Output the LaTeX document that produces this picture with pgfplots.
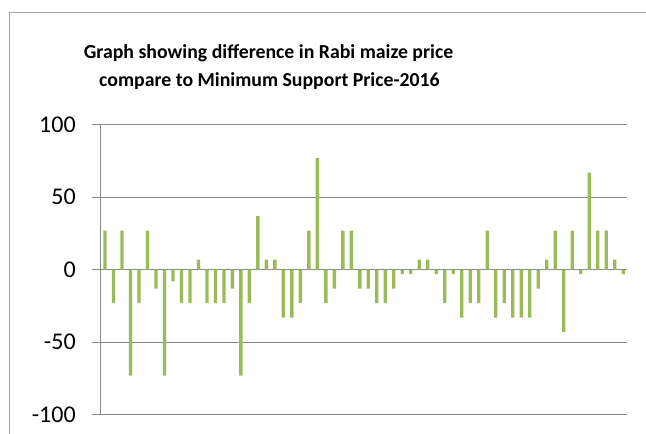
\documentclass[border=0pt]{standalone}
\usepackage{pgfplots}
\pgfplotsset{compat=1.18}
\usepackage{fontspec}
\setmainfont{Carlito}
\definecolor{bargreen}{HTML}{9BBB59}
\definecolor{gridgray}{HTML}{888888}
\definecolor{framegray}{HTML}{A0A0A0}
\begin{document}
\begin{tikzpicture}[x=1pt,y=1pt]
\path[use as bounding box] (0,0) rectangle (646,434);
\fill[framegray] (9,421) rectangle (646,422.3);
\fill[framegray] (9,0) rectangle (10.3,422.3);
\node[font=\bfseries\fontsize{19.8}{23}\selectfont, anchor=base] at (268.5,375) {Graph showing difference in Rabi maize price};
\node[font=\bfseries\fontsize{19.8}{23}\selectfont, anchor=base] at (269.5,347) {compare to Minimum Support Price-2016};
\begin{axis}[
  at={(100.7pt,19.3pt)}, anchor=south west,
  scale only axis, width=526.8pt, height=290pt,
  xmin=-0.5, xmax=61.5, ymin=-100, ymax=100,
  axis x line*=bottom,
  axis y line*=left,
  x axis line style={draw=none},
  y axis line style={-, gridgray, line width=1.3pt},
  ytick={-100,-50,0,50,100},
  xtick=\empty,
  ymajorgrids,
  grid style={gridgray, line width=1.3pt},
  tick align=outside,
  major tick length=8.5pt,
  tick style={gridgray, line width=1.3pt},
  /pgf/number format/assume math mode=true,
  yticklabel style={font=\fontsize{24}{28}\selectfont, anchor=east, xshift=-13pt},
  clip=false,
]
\addplot[ybar, bar width=3.3pt, fill=bargreen, draw=none] table[x=i, y=v] {
i v
0 27
1 -23
2 27
3 -73
4 -23
5 27
6 -13
7 -73
8 -8
9 -23
10 -23
11 7
12 -23
13 -23
14 -23
15 -13
16 -73
17 -23
18 37
19 7
20 7
21 -33
22 -33
23 -23
24 27
25 77
26 -23
27 -13
28 27
29 27
30 -13
31 -13
32 -23
33 -23
34 -13
35 -3
36 -3
37 7
38 7
39 -3
40 -23
41 -3
42 -33
43 -23
44 -23
45 27
46 -33
47 -23
48 -33
49 -33
50 -33
51 -13
52 7
53 27
54 -43
55 27
56 -3
57 67
58 27
59 27
60 7
61 -3
};
\end{axis}
\end{tikzpicture}
\end{document}
